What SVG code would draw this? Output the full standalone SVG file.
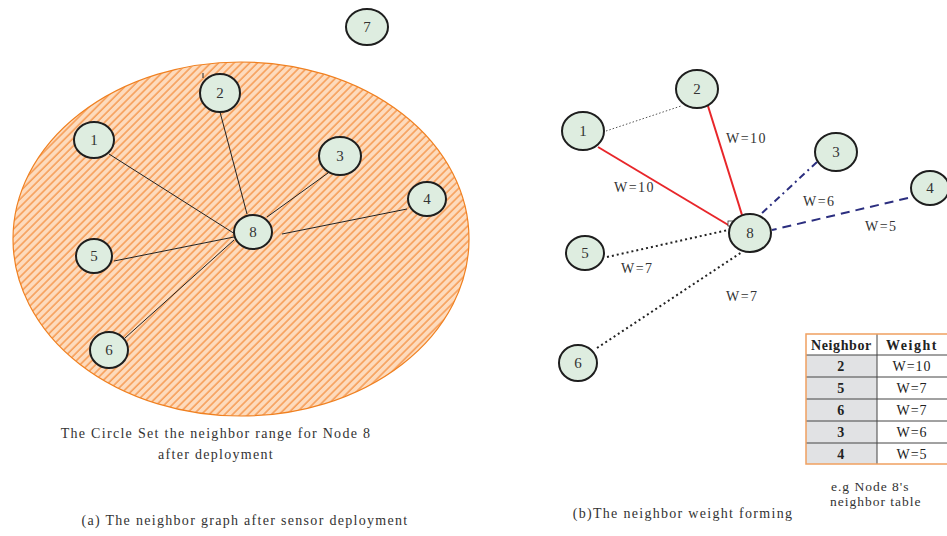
<svg xmlns="http://www.w3.org/2000/svg" width="947" height="536" viewBox="0 0 947 536">
  <style>
    .node ellipse { fill: #deede0; stroke: #1e1e1e; stroke-width: 2; }
    .node text { font-family: "Liberation Serif", "Times New Roman", serif; font-size: 15px; fill: #333; text-anchor: middle; }
    .cap { font-family: "Liberation Serif", "Times New Roman", serif; font-size: 14px; fill: #333; letter-spacing: 1.3px; text-anchor: middle; }
    .note { font-family: "Liberation Serif", "Times New Roman", serif; font-size: 13.5px; fill: #333; letter-spacing: 1px; }
    .wl { font-family: "Liberation Serif", "Times New Roman", serif; font-size: 14px; fill: #333; letter-spacing: 1.5px; }
    .thin { stroke: #222; stroke-width: 1; fill: none; }
    .red { stroke: #e8262a; stroke-width: 2; fill: none; }
    .dot { stroke: #222; stroke-width: 2; stroke-dasharray: 2 3; fill: none; }
    .dotlight { stroke: #555; stroke-width: 1; stroke-dasharray: 1.5 2; fill: none; }
    .dashdot { stroke: #2b2e7f; stroke-width: 2; stroke-dasharray: 7 4 2 4; fill: none; }
    .dash { stroke: #2b2e7f; stroke-width: 2; stroke-dasharray: 9 6; fill: none; }
    .th { font-family: "Liberation Serif", "Times New Roman", serif; font-size: 14px; font-weight: bold; fill: #222; text-anchor: middle; letter-spacing: 0.6px; }
    .td { font-family: "Liberation Serif", "Times New Roman", serif; font-size: 14px; fill: #222; text-anchor: middle; letter-spacing: 1px; }
  </style>
  <defs>
    <pattern id="hatch" patternUnits="userSpaceOnUse" width="5.5" height="5.5" patternTransform="rotate(45)">
      <rect width="5.5" height="5.5" fill="#fddbbd"/>
      <line x1="1" y1="0" x2="1" y2="5.5" stroke="#f4822a" stroke-width="1.1"/>
    </pattern>
  </defs>

  <rect width="947" height="536" fill="#ffffff"/>

  <!-- (a) neighbor range of node 8 -->
  <ellipse id="range" cx="241" cy="239" rx="228" ry="177" fill="url(#hatch)" stroke="#f08020" stroke-width="1.2"/>

  <g id="connectors-a">
    <line class="thin" x1="109" y1="154" x2="235" y2="234"/>
    <line class="thin" x1="220" y1="112" x2="247" y2="214"/>
    <line class="thin" x1="328" y1="173" x2="267" y2="217"/>
    <line class="thin" x1="407" y1="209" x2="282" y2="234"/>
    <line class="thin" x1="114" y1="261" x2="234" y2="237"/>
    <line class="thin" x1="125" y1="338" x2="234" y2="240"/>
    <line class="thin" x1="203" y1="73" x2="203" y2="78"/>
  </g>

  <g id="a-node7" class="node"><ellipse cx="367" cy="27" rx="21" ry="18"/><text x="367" y="32">7</text></g>
  <g id="a-node2" class="node"><ellipse cx="220" cy="93" rx="20" ry="19"/><text x="220" y="98">2</text></g>
  <g id="a-node1" class="node"><ellipse cx="94" cy="140" rx="20" ry="18"/><text x="94" y="145">1</text></g>
  <g id="a-node3" class="node"><ellipse cx="340" cy="156" rx="21" ry="19"/><text x="340" y="161">3</text></g>
  <g id="a-node4" class="node"><ellipse cx="427" cy="199" rx="19" ry="17"/><text x="427" y="204">4</text></g>
  <g id="a-node8" class="node"><ellipse cx="253" cy="232" rx="19" ry="17"/><text x="253" y="237">8</text></g>
  <g id="a-node5" class="node"><ellipse cx="94" cy="256" rx="18" ry="17"/><text x="94" y="261">5</text></g>
  <g id="a-node6" class="node"><ellipse cx="109" cy="350" rx="19" ry="18"/><text x="109" y="355">6</text></g>

  <text class="cap" x="216" y="438">The Circle Set the neighbor range for Node 8</text>
  <text class="cap" x="216" y="459">after deployment</text>
  <text class="cap" x="245" y="525">(a) The neighbor graph after sensor deployment</text>

  <!-- (b) weighted neighbor links -->
  <g id="connectors-b">
    <line class="dotlight" x1="606" y1="131" x2="681" y2="106"/>
    <line class="red" x1="598" y1="147" x2="730" y2="226"/>
    <line class="red" x1="708" y1="106" x2="742" y2="215"/>
    <line class="dashdot" x1="817" y1="162" x2="760" y2="215"/>
    <line class="dash" x1="908" y1="198" x2="772" y2="230"/>
    <line class="dot" x1="607" y1="257" x2="728" y2="230"/>
    <line class="dot" x1="597" y1="348" x2="742" y2="252"/>
    <rect x="728" y="221" width="5" height="5" fill="#fff" stroke="#333" stroke-width="0.8"/>
  </g>

  <g id="b-node2" class="node"><ellipse cx="697" cy="89" rx="21" ry="19"/><text x="697" y="94">2</text></g>
  <g id="b-node1" class="node"><ellipse cx="583" cy="131" rx="21" ry="19"/><text x="583" y="136">1</text></g>
  <g id="b-node3" class="node"><ellipse cx="836" cy="152" rx="21" ry="19"/><text x="836" y="157">3</text></g>
  <g id="b-node4" class="node"><ellipse cx="930" cy="188" rx="19" ry="17"/><text x="930" y="193">4</text></g>
  <g id="b-node8" class="node"><ellipse cx="750" cy="233" rx="21" ry="19"/><text x="750" y="238">8</text></g>
  <g id="b-node5" class="node"><ellipse cx="585" cy="253" rx="19" ry="17"/><text x="585" y="258">5</text></g>
  <g id="b-node6" class="node"><ellipse cx="578" cy="363" rx="19" ry="18"/><text x="578" y="368">6</text></g>

  <g id="weights">
    <text class="wl" x="614" y="192">W=10</text>
    <text class="wl" x="726" y="143">W=10</text>
    <text class="wl" x="803" y="206">W=6</text>
    <text class="wl" x="865" y="231">W=5</text>
    <text class="wl" x="621" y="273">W=7</text>
    <text class="wl" x="726" y="301">W=7</text>
  </g>

  <!-- neighbor table of node 8 -->
  <g id="table">
    <rect x="806" y="355" width="71" height="109" fill="#e1e2e4"/>
    <rect x="877" y="355" width="73" height="109" fill="#ffffff"/>
    <g stroke="#444" stroke-width="1">
      <line x1="806" y1="355" x2="950" y2="355"/>
      <line x1="806" y1="377" x2="950" y2="377"/>
      <line x1="806" y1="399" x2="950" y2="399"/>
      <line x1="806" y1="421" x2="950" y2="421"/>
      <line x1="806" y1="443" x2="950" y2="443"/>
      <line x1="877" y1="334" x2="877" y2="464"/>
    </g>
    <rect x="806" y="334" width="144" height="130" fill="none" stroke="#f0a060" stroke-width="1.5"/>
    <text class="th" x="841.5" y="350">Neighbor</text>
    <text class="th" x="912" y="350" style="letter-spacing:1.5px">Weight</text>
    <text class="th" x="841" y="371">2</text><text class="td" x="912" y="371">W=10</text>
    <text class="th" x="841" y="393">5</text><text class="td" x="912" y="393">W=7</text>
    <text class="th" x="841" y="415">6</text><text class="td" x="912" y="415">W=7</text>
    <text class="th" x="841" y="437">3</text><text class="td" x="912" y="437">W=6</text>
    <text class="th" x="841" y="459">4</text><text class="td" x="912" y="459">W=5</text>
  </g>

  <text class="note" x="831" y="491">e.g Node 8's</text>
  <text class="note" x="830" y="506">neighbor table</text>
  <text class="cap" x="683" y="518">(b)The neighbor weight forming</text>
</svg>
